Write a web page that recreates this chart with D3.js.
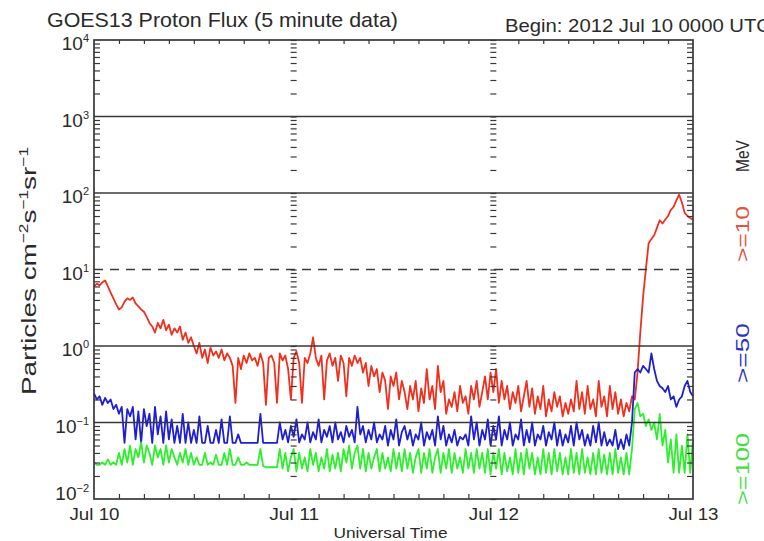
<!DOCTYPE html>
<html><head><meta charset="utf-8">
<script src="https://cdn.jsdelivr.net/npm/d3@7"></script>
<style>
body{margin:0;background:#fff;}
text{font-family:"Liberation Sans",Arial,sans-serif;fill:#2a2a2a;}
</style>
</head><body>
<svg id="c" width="764" height="541"></svg>
<script>
// ---------- data ----------
const startTime = "2012-07-10T00:00:00Z";
const endTime = "2012-07-13T00:00:00Z";
const stepMinutes = 20;
const dayTicks = ["2012-07-10T00:00:00Z","2012-07-11T00:00:00Z","2012-07-12T00:00:00Z","2012-07-13T00:00:00Z"];
const decadeTicks = [1e-2,1e-1,1e0,1e1,1e2,1e3,1e4];
const decadeExponents = ["\u22122","\u22121","0","1","2","3","4"];
const dashedDecades = [1e1];
const titleText = "GOES13 Proton Flux (5 minute data)";
const beginText = "Begin: 2012 Jul 10 0000 UTC";
const xTitle = "Universal Time";
const unitLabel = "MeV";
const seriesLabels = [">=10", ">=50", ">=100"];

// >=10 MeV protons
const p10 = [
6.0,6.5,6.2,6.8,7.2,6.0,5.0,4.2,3.5,3.0,3.2,3.8,
4.2,4.0,4.3,3.6,3.3,3.0,2.8,2.4,2.0,1.8,1.5,2.0,
1.7,2.2,1.6,1.9,1.4,1.7,1.5,1.8,1.2,1.5,1.1,1.3,
1.0,0.8,1.1,0.7,0.9,0.6,0.95,0.75,0.85,0.7,0.9,0.65,
0.8,0.7,0.55,0.18,0.7,0.5,0.75,0.6,0.8,0.65,0.7,0.55,
0.8,0.6,0.17,0.7,0.75,0.6,0.18,0.8,0.65,0.75,0.5,0.2,
0.7,0.85,0.6,0.18,0.7,0.6,0.8,1.3,0.7,0.55,0.75,0.2,
0.65,0.8,0.55,0.7,0.35,0.75,0.6,0.22,0.7,0.55,0.75,0.6,
0.7,0.45,0.6,0.3,0.55,0.4,0.5,0.25,0.45,0.35,0.15,0.4,
0.3,0.45,0.2,0.35,0.25,0.15,0.3,0.2,0.35,0.14,0.28,0.18,
0.5,0.2,0.3,0.15,0.55,0.25,0.35,0.13,0.2,0.16,0.25,0.14,
0.3,0.18,0.22,0.13,0.3,0.2,0.35,0.16,0.25,0.4,0.2,0.45,
0.25,0.5,0.18,0.35,0.2,0.3,0.15,0.25,0.18,0.3,0.14,0.22,
0.35,0.16,0.28,0.13,0.22,0.15,0.3,0.12,0.2,0.14,0.25,0.16,
0.22,0.12,0.18,0.13,0.2,0.14,0.35,0.15,0.25,0.13,0.3,0.15,
0.2,0.12,0.35,0.16,0.22,0.12,0.3,0.15,0.25,0.13,0.2,0.12,
0.18,0.14,0.22,0.2,0.45,1.5,4.4,10,22,25,28,35,
44,40,45,50,60,66,80,95,75,55,50,47,
45];

// >=50 MeV protons
const p50 = [
0.24,0.2,0.22,0.17,0.21,0.18,0.2,0.15,0.17,0.13,0.16,0.054,
0.15,0.12,0.16,0.06,0.14,0.054,0.15,0.09,0.13,0.054,0.16,0.07,
0.12,0.054,0.14,0.06,0.11,0.054,0.09,0.054,0.13,0.054,0.1,0.054,
0.08,0.054,0.12,0.054,0.054,0.09,0.054,0.054,0.08,0.054,0.11,0.054,
0.054,0.12,0.054,0.054,0.07,0.054,0.054,0.054,0.054,0.054,0.054,0.054,
0.13,0.054,0.054,0.054,0.054,0.054,0.054,0.1,0.06,0.08,0.055,0.09,
0.065,0.11,0.055,0.07,0.06,0.1,0.055,0.075,0.06,0.11,0.055,0.08,
0.065,0.09,0.055,0.1,0.06,0.075,0.055,0.09,0.065,0.08,0.055,0.16,
0.07,0.09,0.055,0.08,0.06,0.1,0.055,0.07,0.06,0.09,0.05,0.08,
0.06,0.11,0.05,0.075,0.09,0.06,0.08,0.05,0.07,0.06,0.1,0.05,
0.075,0.06,0.08,0.05,0.12,0.06,0.09,0.05,0.07,0.055,0.08,0.05,
0.065,0.06,0.07,0.05,0.12,0.06,0.1,0.05,0.08,0.06,0.11,0.05,
0.09,0.06,0.12,0.05,0.08,0.06,0.1,0.05,0.07,0.06,0.11,0.05,
0.08,0.055,0.1,0.05,0.07,0.06,0.09,0.05,0.075,0.06,0.1,0.05,
0.08,0.05,0.07,0.055,0.09,0.05,0.1,0.06,0.08,0.05,0.07,0.05,
0.09,0.055,0.1,0.05,0.075,0.05,0.06,0.05,0.08,0.045,0.06,0.045,
0.07,0.05,0.1,0.45,0.5,0.45,0.55,0.5,0.45,0.8,0.5,0.35,
0.3,0.28,0.25,0.3,0.2,0.22,0.16,0.2,0.22,0.3,0.35,0.25,
0.22];

// >=100 MeV protons
const p100 = [
0.03,0.028,0.028,0.03,0.028,0.033,0.028,0.03,0.028,0.04,0.028,0.045,
0.03,0.05,0.028,0.045,0.035,0.055,0.03,0.05,0.04,0.028,0.05,0.035,
0.045,0.028,0.05,0.03,0.045,0.035,0.028,0.04,0.03,0.045,0.028,0.04,
0.028,0.035,0.028,0.028,0.04,0.028,0.03,0.028,0.038,0.028,0.028,0.04,
0.028,0.045,0.028,0.028,0.035,0.028,0.028,0.03,0.028,0.028,0.028,0.028,
0.045,0.027,0.026,0.026,0.026,0.026,0.026,0.045,0.025,0.04,0.023,0.035,
0.045,0.023,0.04,0.025,0.035,0.023,0.045,0.028,0.04,0.023,0.035,0.025,
0.045,0.023,0.038,0.025,0.04,0.023,0.045,0.03,0.05,0.025,0.04,0.05,
0.025,0.045,0.023,0.04,0.025,0.035,0.045,0.023,0.04,0.025,0.035,0.023,
0.045,0.025,0.04,0.023,0.045,0.025,0.04,0.022,0.035,0.045,0.022,0.04,
0.025,0.045,0.022,0.035,0.045,0.022,0.04,0.025,0.045,0.022,0.04,0.025,
0.035,0.022,0.045,0.025,0.04,0.022,0.045,0.025,0.04,0.022,0.045,0.021,
0.04,0.025,0.045,0.021,0.04,0.023,0.035,0.021,0.045,0.022,0.04,0.021,
0.045,0.025,0.04,0.021,0.035,0.021,0.045,0.022,0.04,0.021,0.045,0.023,
0.04,0.021,0.035,0.021,0.045,0.022,0.04,0.021,0.045,0.022,0.035,0.021,
0.04,0.021,0.045,0.022,0.038,0.021,0.04,0.021,0.045,0.022,0.035,0.021,
0.04,0.021,0.045,0.15,0.18,0.12,0.13,0.09,0.11,0.08,0.1,0.06,
0.13,0.05,0.08,0.03,0.06,0.022,0.07,0.022,0.05,0.022,0.07,0.022,
0.06];

const seriesColors = ["#f0301e", "#1e1ed2", "#2cf02c"];
const labelColors = ["#e8503a", "#3030c0", "#40e040"];

// ---------- chart ----------
const svg = d3.select("#c");
const X0 = 94, X1 = 693, Y0 = 40, Y1 = 499;
const t0 = new Date(startTime), t1 = new Date(endTime);
const x = d3.scaleUtc().domain([t0, t1]).range([X0, X1]);
const y = d3.scaleLog().domain([1e-2, 1e4]).range([Y1, Y0]);
const axisColor = "#383838";

const times = p10.map((_, i) => new Date(+t0 + i * stepMinutes * 60000));
const series = [p10, p50, p100];

// data lines (drawn first, grid over them)
const line = d3.line().x(d => x(d[0])).y(d => y(d[1]));
series.forEach((vals, k) => {
  svg.append("path")
    .datum(vals.map((v, i) => [times[i], v]))
    .attr("d", line)
    .attr("fill", "none")
    .attr("stroke", seriesColors[k])
    .attr("stroke-width", 1.8)
    .attr("stroke-linejoin", "round");
});

// minor log ticks
const minorTicks = [];
decadeTicks.slice(0, -1).forEach(d => { for (let k = 2; k <= 9; k++) minorTicks.push(d * k); });

function clean(g) { g.select(".domain").remove(); g.attr("color", axisColor); g.selectAll("line").attr("stroke-width", 1.2); }

svg.append("g").attr("transform", `translate(${X0},0)`)
  .call(d3.axisRight(y).tickValues(minorTicks).tickSize(6).tickFormat(""))
  .call(clean);
svg.append("g").attr("transform", `translate(${X1},0)`)
  .call(d3.axisLeft(y).tickValues(minorTicks).tickSize(6).tickFormat(""))
  .call(clean);
// columns of ticks at inner day boundaries
dayTicks.slice(1, -1).forEach(ds => {
  svg.append("g").attr("transform", `translate(${x(new Date(ds)) - 3},0)`)
    .call(d3.axisRight(y).tickValues(minorTicks.concat(decadeTicks)).tickSize(6).tickFormat(""))
    .call(clean);
});

// 3-hour ticks on top and bottom
const dayMs = dayTicks.map(d => +new Date(d));
const hourTicks = d3.utcHour.every(3).range(t0, t1).filter(d => !dayMs.includes(+d));
svg.append("g").attr("transform", `translate(0,${Y0})`)
  .call(d3.axisBottom(x).tickValues(hourTicks).tickSize(4).tickFormat(""))
  .call(clean);
svg.append("g").attr("transform", `translate(0,${Y1})`)
  .call(d3.axisTop(x).tickValues(hourTicks).tickSize(5).tickFormat(""))
  .call(clean);

// decade grid lines
decadeTicks.slice(1, -1).forEach(d => {
  svg.append("line")
    .attr("x1", X0).attr("x2", X1).attr("y1", y(d)).attr("y2", y(d))
    .attr("stroke", axisColor).attr("stroke-width", 1.6)
    .attr("stroke-dasharray", dashedDecades.includes(d) ? "9,7" : null);
});

// frame
svg.append("rect").attr("x", X0).attr("y", Y0).attr("width", X1 - X0).attr("height", Y1 - Y0)
  .attr("fill", "none").attr("stroke", axisColor).attr("stroke-width", 1.7);

// y tick labels
decadeTicks.forEach((d, i) => {
  const t = svg.append("text")
    .attr("x", X0 - 5)
    .attr("y", i === 0 ? y(d) + 1 : y(d) + 10)
    .attr("text-anchor", "end")
    .attr("font-size", 19);
  t.append("tspan").text("10");
  t.append("tspan").attr("font-size", 11).attr("dy", -8).text(decadeExponents[i]);
});

// x tick labels
svg.append("g").attr("transform", `translate(0,${Y1})`)
  .call(d3.axisBottom(x).tickValues(dayTicks.map(d => new Date(d))).tickSize(0).tickPadding(9)
    .tickFormat(d3.utcFormat("%b %-d")))
  .call(g => g.select(".domain").remove())
  .call(g => g.selectAll("text").attr("font-size", 17).attr("fill", "#2a2a2a")
    .attr("font-family", "Liberation Sans, Arial, sans-serif")
    .attr("textLength", 50).attr("lengthAdjust", "spacingAndGlyphs"));

// axis titles
svg.append("text").attr("x", (X0 + X1) / 2 - 3).attr("y", 538).attr("text-anchor", "middle")
  .attr("font-size", 15).attr("textLength", 114).attr("lengthAdjust", "spacingAndGlyphs").text(xTitle);

const yt = svg.append("text").attr("transform", "translate(36,271) rotate(-90)")
  .attr("text-anchor", "middle").attr("font-size", 21)
  .attr("textLength", 248).attr("lengthAdjust", "spacingAndGlyphs");
yt.append("tspan").text("Particles cm");
yt.append("tspan").attr("font-size", 13).attr("dy", -8).text("\u22122");
yt.append("tspan").attr("dy", 8).text("s");
yt.append("tspan").attr("font-size", 13).attr("dy", -8).text("\u22121");
yt.append("tspan").attr("dy", 8).text("sr");
yt.append("tspan").attr("font-size", 13).attr("dy", -8).text("\u22121");

// title texts
svg.append("text").attr("x", 47).attr("y", 27).attr("font-size", 21)
  .attr("textLength", 351).attr("lengthAdjust", "spacingAndGlyphs").text(titleText);
svg.append("text").attr("x", 505).attr("y", 32).attr("font-size", 19)
  .attr("textLength", 266).attr("lengthAdjust", "spacingAndGlyphs").text(beginText);

// right-hand energy labels
const rightLabels = [
  {text: unitLabel, color: "#2a2a2a", cy: 156, len: 32},
  {text: seriesLabels[0], color: labelColors[0], cy: 234, len: 56},
  {text: seriesLabels[1], color: labelColors[1], cy: 353, len: 60},
  {text: seriesLabels[2], color: labelColors[2], cy: 469, len: 72}
];
rightLabels.forEach(l => {
  svg.append("text").attr("transform", `translate(749,${l.cy}) rotate(-90)`)
    .attr("text-anchor", "middle").attr("font-size", 18)
    .attr("textLength", l.len).attr("lengthAdjust", "spacingAndGlyphs")
    .style("fill", l.color).text(l.text);
});
</script>
</body></html>
